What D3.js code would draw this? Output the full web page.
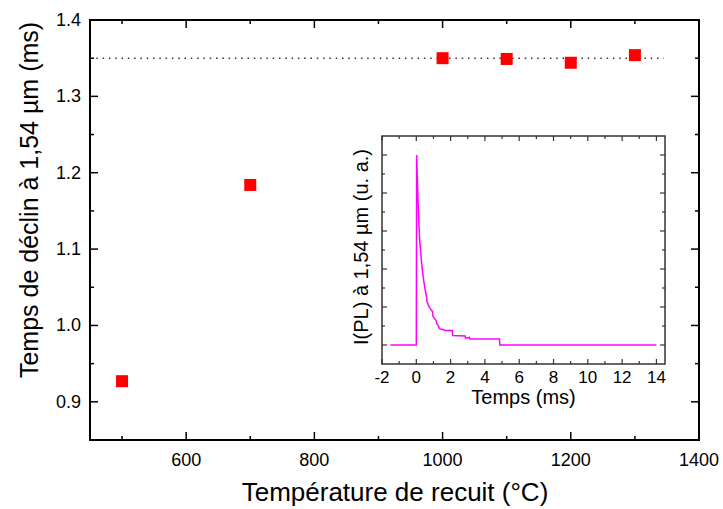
<!DOCTYPE html>
<html>
<head>
<meta charset="utf-8">
<script src="https://cdn.jsdelivr.net/npm/d3@7/dist/d3.min.js"></script>
<style>
  body { margin: 0; background: #fff; }
  text { font-family: "Liberation Sans", Arial, sans-serif; fill: #000; }
</style>
</head>
<body>
<script>
// main data: decay time vs annealing temperature
var temps = [500, 700, 1000, 1100, 1200, 1300];
var decay = [0.927, 1.184, 1.350, 1.349, 1.344, 1.354];
var refLevel = 1.35;
var refSpan = [450, 1345];

var xTicks = [600, 800, 1000, 1200, 1400];
var yTicks = [0.9, 1.0, 1.1, 1.2, 1.3, 1.4];

// inset: PL decay trace
var pulseT = [-1.5, 0, 0.02, 0.05, 0.1, 0.15, 0.2, 0.3, 0.4, 0.5, 0.6, 0.62, 0.7, 0.8, 0.9, 0.95, 0.97, 1.05, 1.15, 1.2, 1.3, 1.35, 1.6, 1.65, 2.1, 2.12, 2.85, 2.87, 3.1, 3.12, 4.85, 4.87, 14.0];
var pulseI = [0, 0, 5.0, 4.5, 3.8, 3.2, 2.75, 2.2, 1.8, 1.5, 1.27, 1.15, 1.05, 0.97, 0.9, 0.88, 0.76, 0.7, 0.65, 0.56, 0.5, 0.43, 0.4, 0.38, 0.38, 0.25, 0.24, 0.18, 0.2, 0.16, 0.16, 0, 0];
var insetXTicks = [-2, 0, 2, 4, 6, 8, 10, 12, 14];

var W = 723, H = 509;
var m = {left: 90, right: 699, top: 20, bottom: 440};

var svg = d3.select("body").append("svg")
    .attr("width", W)
    .attr("height", H);

var x = d3.scaleLinear().domain([450, 1400]).range([m.left, m.right]);
var y = d3.scaleLinear().domain([0.85, 1.4]).range([m.bottom, m.top]);

// ticks, all pointing inward
function ticks(g, scale, vals, len, side, lo, hi) {
    vals.forEach(function(v) {
        var p = scale(v);
        var l = g.append("line").attr("stroke", "#000").attr("stroke-width", 1.5);
        if (side === "bottom") l.attr("x1", p).attr("x2", p).attr("y1", hi).attr("y2", hi - len);
        if (side === "top") l.attr("x1", p).attr("x2", p).attr("y1", lo).attr("y2", lo + len);
        if (side === "left") l.attr("y1", p).attr("y2", p).attr("x1", lo).attr("x2", lo + len);
        if (side === "right") l.attr("y1", p).attr("y2", p).attr("x1", hi).attr("x2", hi - len);
    });
}

var axes = svg.append("g");
var xMinor = d3.range(500, 1400, 200);
var yMinor = d3.range(0.95, 1.4, 0.1);
ticks(axes, x, xTicks, 8, "bottom", m.top, m.bottom);
ticks(axes, x, xMinor, 4, "bottom", m.top, m.bottom);
ticks(axes, x, xTicks, 8, "top", m.top, m.bottom);
ticks(axes, x, xMinor, 4, "top", m.top, m.bottom);
ticks(axes, y, yTicks, 8, "left", m.left, m.right);
ticks(axes, y, yMinor, 4, "left", m.left, m.right);
ticks(axes, y, yTicks, 8, "right", m.left, m.right);
ticks(axes, y, yMinor, 4, "right", m.left, m.right);

axes.append("rect")
    .attr("x", m.left).attr("y", m.top)
    .attr("width", m.right - m.left).attr("height", m.bottom - m.top)
    .attr("fill", "none").attr("stroke", "#000").attr("stroke-width", 2);

axes.selectAll("text.xt")
    .data(xTicks).enter().append("text")
    .attr("x", function(d) { return x(d); })
    .attr("y", 466)
    .attr("text-anchor", "middle")
    .attr("font-size", 18)
    .text(function(d) { return d; });

axes.selectAll("text.yt")
    .data(yTicks).enter().append("text")
    .attr("x", 81)
    .attr("y", function(d) { return y(d) + 6; })
    .attr("text-anchor", "end")
    .attr("font-size", 18)
    .text(function(d) { return d3.format(".1f")(d); });

svg.append("text")
    .attr("x", 395)
    .attr("y", 501)
    .attr("text-anchor", "middle")
    .attr("font-size", 26)
    .text("Température de recuit (°C)");

svg.append("text")
    .attr("transform", "translate(38," + 200 + ") rotate(-90)")
    .attr("text-anchor", "middle")
    .attr("font-size", 25)
    .text("Temps de déclin à 1,54 µm (ms)");

// dotted reference line
svg.append("line")
    .attr("x1", x(refSpan[0])).attr("x2", x(refSpan[1]))
    .attr("y1", y(refLevel)).attr("y2", y(refLevel))
    .attr("stroke", "#333").attr("stroke-width", 1.5)
    .attr("stroke-dasharray", "1.5,4.8");

var sq = 12;
svg.selectAll("rect.pt")
    .data(temps).enter().append("rect")
    .attr("x", function(d) { return x(d) - sq / 2; })
    .attr("y", function(d, i) { return y(decay[i]) - sq / 2; })
    .attr("width", sq).attr("height", sq)
    .attr("fill", "#ff0000");

// inset
var ins = {left: 382, right: 665, top: 136, bottom: 364};
var ix = d3.scaleLinear().domain([-2, 14.5]).range([ins.left, ins.right]);
var iy = d3.scaleLinear().domain([-0.5, 5.5]).range([ins.bottom, ins.top]);

var ig = svg.append("g");
ig.append("rect")
    .attr("x", ins.left).attr("y", ins.top)
    .attr("width", ins.right - ins.left).attr("height", ins.bottom - ins.top)
    .attr("fill", "#fff");

var line = d3.line()
    .x(function(d) { return ix(d); })
    .y(function(d, i) { return iy(pulseI[i]); });

ig.append("path")
    .attr("d", line(pulseT))
    .attr("fill", "none")
    .attr("stroke", "#ff00ff")
    .attr("stroke-width", 1.5);

var ixMinor = d3.range(-1, 14.5, 2);
var iyMajor = d3.range(0, 5.01, 1);
var iyMinor = d3.range(0.5, 5.01, 1);
function iticks(vals, scale, len, side) {
    vals.forEach(function(v) {
        var p = scale(v);
        var l = ig.append("line").attr("stroke", "#333").attr("stroke-width", 1.2);
        if (side === "bottom") l.attr("x1", p).attr("x2", p).attr("y1", ins.bottom).attr("y2", ins.bottom - len);
        if (side === "top") l.attr("x1", p).attr("x2", p).attr("y1", ins.top).attr("y2", ins.top + len);
        if (side === "left") l.attr("y1", p).attr("y2", p).attr("x1", ins.left).attr("x2", ins.left + len);
        if (side === "right") l.attr("y1", p).attr("y2", p).attr("x1", ins.right).attr("x2", ins.right - len);
    });
}
iticks(insetXTicks, ix, 5, "bottom");
iticks(ixMinor, ix, 3, "bottom");
iticks(insetXTicks, ix, 5, "top");
iticks(ixMinor, ix, 3, "top");
iticks(iyMajor, iy, 5, "left");
iticks(iyMinor, iy, 3, "left");
iticks(iyMajor, iy, 5, "right");
iticks(iyMinor, iy, 3, "right");

ig.append("rect")
    .attr("x", ins.left).attr("y", ins.top)
    .attr("width", ins.right - ins.left).attr("height", ins.bottom - ins.top)
    .attr("fill", "none").attr("stroke", "#333").attr("stroke-width", 1.5);

ig.selectAll("text.ixt")
    .data(insetXTicks).enter().append("text")
    .attr("x", function(d) { return ix(d); })
    .attr("y", 383)
    .attr("text-anchor", "middle")
    .attr("font-size", 17)
    .text(function(d) { return d; });

ig.append("text")
    .attr("x", (ins.left + ins.right) / 2)
    .attr("y", 404)
    .attr("text-anchor", "middle")
    .attr("font-size", 20)
    .text("Temps (ms)");

ig.append("text")
    .attr("transform", "translate(368," + 247 + ") rotate(-90)")
    .attr("text-anchor", "middle")
    .attr("font-size", 20)
    .text("I(PL) à 1,54 µm (u. a.)");
</script>
</body>
</html>
